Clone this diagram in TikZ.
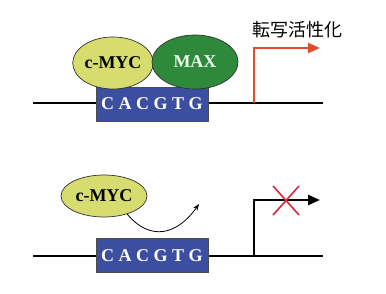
\documentclass[tikz,border=0pt]{standalone}
\usepackage{fontspec}
\setmainfont{Liberation Serif}
\newfontfamily\jpfont{Noto Sans CJK JP}
\usepackage{tikz}
\usetikzlibrary{shapes.geometric, arrows.meta}

\definecolor{boxblue}{RGB}{59,78,160}
\definecolor{mycyellow}{RGB}{214,220,110}
\definecolor{maxgreen}{RGB}{46,138,58}
\definecolor{actred}{RGB}{224,76,44}
\definecolor{crossred}{RGB}{218,40,60}

\tikzset{
  dna/.style={line width=2.6pt, black},
  ebox/.style={draw=black!70, line width=0.5pt, fill=boxblue, text=white,
    minimum width=112pt, minimum height=34pt, inner sep=0pt,
    font=\fontsize{18}{21}\selectfont\bfseries},
  protein/.style={ellipse, draw=black!80, line width=0.7pt, inner sep=0pt,
    font=\fontsize{18}{21}\selectfont\bfseries},
}

\newcommand{\ebseq}{C\hspace{4.5pt}A\hspace{4.5pt}C\hspace{4.5pt}G\hspace{4.5pt}T\hspace{4.5pt}G}

\begin{document}
\begin{tikzpicture}[x=1pt, y=-1pt, >=Stealth]
        \useasboundingbox (0,0) rectangle (386,294);

        % Top: c-MYC/MAX bound
        \coordinate (dnaA1) at (33,103);
        \coordinate (dnaA2) at (323,103);
        \draw[dna] (dnaA1) -- (dnaA2);
        \node[ebox] (boxA) at (152,104) {\ebseq};
        \node[protein, fill=mycyellow, minimum width=80pt, minimum height=52pt] (mycA) at (113,63) {c-MYC};
        \node[protein, fill=maxgreen, text=white!92!green, minimum width=86pt, minimum height=54pt] (maxA) at (195,62) {MAX};

        % Transcription start (active)
        \coordinate (tssA) at (254,103);
        \coordinate (tssA1) at (254,48);
        \coordinate (tssA2) at (320,48);
        \draw[actred, line width=2pt, -{Triangle[length=12pt, width=10pt]}] (tssA) -- (tssA1) -- (tssA2);
        \node[anchor=west, inner sep=0pt, font=\jpfont\fontsize{18}{21}\selectfont] (actlbl) at (252,30) {転写活性化};

        % Bottom: c-MYC released
        \coordinate (dnaB1) at (33,256);
        \coordinate (dnaB2) at (323,256);
        \draw[dna] (dnaB1) -- (dnaB2);
        \node[ebox] (boxB) at (152,255.5) {\ebseq};
        \node[protein, fill=mycyellow, minimum width=86pt, minimum height=42pt] (mycB) at (104,196) {c-MYC};
        \coordinate (away) at (199,204);
        \draw[->, line width=0.8pt] (mycB.-38) to[out=-50, in=-125, looseness=1.3] (away);

        % Transcription start (blocked)
        \coordinate (tssB) at (254,256);
        \coordinate (tssB1) at (254,200);
        \coordinate (tssB2) at (320,200);
        \draw[line width=2.4pt, -{Triangle[length=12pt, width=10pt]}] (tssB) -- (tssB1) -- (tssB2);
        \draw[crossred, line width=1.6pt] (273,186) -- (299,215) (299,186) -- (273,215);
    \end{tikzpicture}
\end{document}
